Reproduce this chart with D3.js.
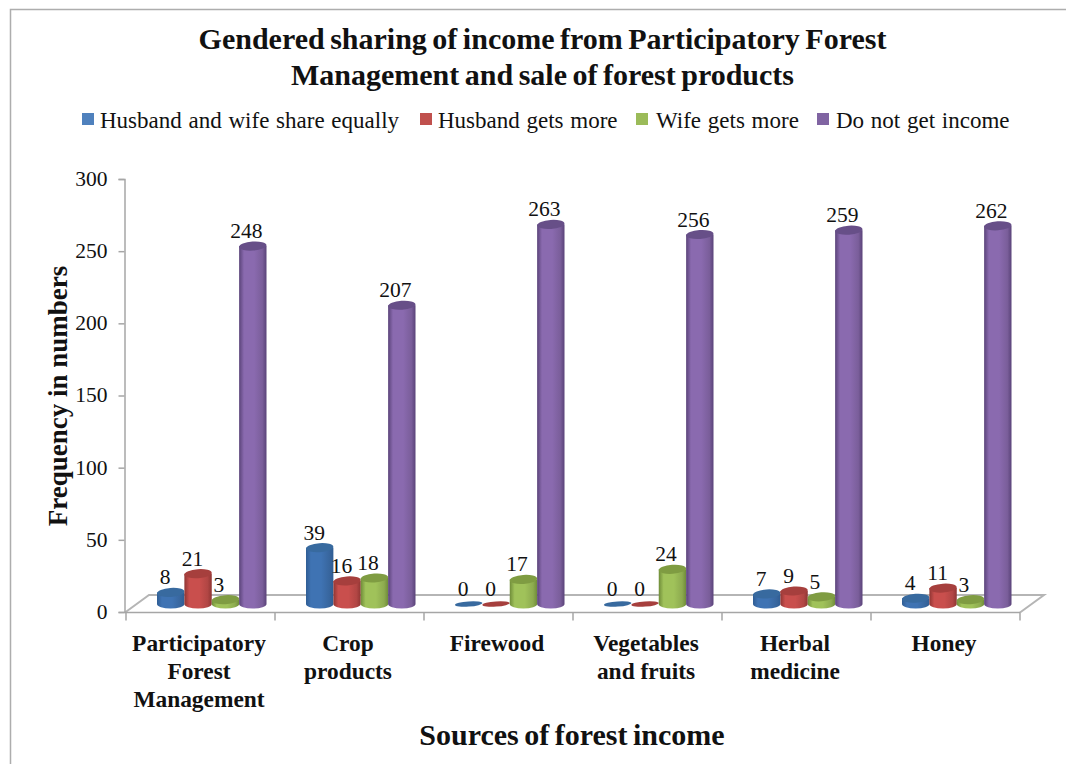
<!DOCTYPE html>
<html><head><meta charset="utf-8">
<script src="https://cdnjs.cloudflare.com/ajax/libs/d3/7.8.5/d3.min.js"></script>
<style>
html,body{margin:0;padding:0;background:#fff}
svg{display:block}
text{font-family:"Liberation Serif","Times New Roman",serif;fill:#111}
.axis path,.axis line{stroke:#a6a6a6;stroke-width:1.5px}
</style></head><body><svg id="c" width="1066" height="764"></svg>
<script>
const categories=[["Participatory","Forest","Management"],["Crop","products"],["Firewood"],["Vegetables","and fruits"],["Herbal","medicine"],["Honey"]];
const seriesNames=["Husband and wife share equally","Husband gets more","Wife gets more","Do not get income"];
const equally=[8,39,0,0,7,4];
const husband=[21,16,0,0,9,11];
const wife=[3,18,17,24,5,3];
const none=[248,207,263,256,259,262];
const yTicks=[0,50,100,150,200,250,300];
const seriesValues=[equally,husband,wife,none];
const base=["#4f81bd","#c0504d","#9bbb59","#8064a2"];
const dark=["#2f5d94","#8f3533","#6f8c39","#5a4379"];
const light=["#3f73b3","#c94f4d","#a0c25a","#8a6aaf"];
const topC=["#386a9f","#a63f3d","#7f9c42","#674f88"];

const svg=d3.select("#c");
const defs=svg.append("defs");
base.forEach((c,i)=>{
  const g=defs.append("linearGradient").attr("id","g"+i);
  [[0,dark[i]],[0.18,light[i]],[0.55,light[i]],[0.85,d3.color(light[i]).darker(.35)],[1,dark[i]]].forEach(s=>g.append("stop").attr("offset",s[0]).attr("stop-color",s[1]));
});
// outer frame
svg.append("path").attr("d","M10.5,764V9.5H1066").attr("fill","none").attr("stroke","#adadad").attr("stroke-width",1.5);

const idx=categories.map((d,i)=>i);
const x=d3.scaleBand().domain(idx).range([126,1020]);
const y=d3.scaleLinear().domain([0,300]).range([612,179]);
const inner=d3.scaleBand().domain([0,1,2,3]).range([0,109.5]);
const depthX=24, depthY=17;

// floor
svg.append("path").attr("d",`M125,${y(0)+.5}L${125+depthX},${y(0)-depthY}H1044L1020,${y(0)+.5}`)
  .attr("fill","#fff").attr("stroke","#b5b5b5").attr("stroke-width",2);

const yAxis=d3.axisLeft(y).tickValues(yTicks).tickSize(6).tickPadding(11);
const gy=svg.append("g").attr("class","axis").attr("transform","translate(124.5,0)").call(yAxis);
gy.selectAll("text").attr("font-size",21.5).attr("dy","0.3em");
const xAxis=d3.axisBottom(x).tickValues([]).tickSize(0);
const gx=svg.append("g").attr("class","axis").attr("transform",`translate(0,${y(0)+.5})`).call(xAxis);
gx.select("path").attr("d","M125,0H1020");
d3.range(7).forEach(i=>{
  const px=126+i*x.step();
  gx.append("line").attr("x1",px).attr("x2",px).attr("y1",0).attr("y2",8);
});

// bars
const groupLeft=i=>x(i)+31;
const lift=8, ry=4.5, ryZero=2.6;
const order=[0,1,2,3];
idx.forEach(ci=>{
  order.forEach(si=>{
    const v=seriesValues[si][ci];
    const l=groupLeft(ci)+inner(si), w=inner.bandwidth();
    const cx=l+w/2, b=y(0)-lift, t=y(v)-lift, r=w/2;
    const yy=svg.append("g");
    yy.append("path").attr("d",`M${l},${t}V${b}A${r},${ry} 0 0 0 ${l+w},${b}V${t}Z`).attr("fill",v?`url(#g${si})`:"none");
    yy.append("ellipse").attr("cx",cx).attr("cy",t).attr("rx",r).attr("ry",v?ry:ryZero).attr("fill",topC[si])
      .attr("transform",`rotate(-4 ${cx} ${t})`);
  });
});
// value labels
const labelShift=[-5.5,-5.5,-6.5,-6.5];
idx.forEach(ci=>order.forEach(si=>{
  const v=seriesValues[si][ci];
  const l=groupLeft(ci)+inner(si), w=inner.bandwidth();
  svg.append("text").attr("x",l+w/2+labelShift[si]).attr("y",y(v)-lift-8).attr("text-anchor","middle").attr("font-size",21.5).text(v);
}));

// category labels
idx.forEach(i=>{
  const lines=categories[i];
  lines.forEach((t,j)=>{
    svg.append("text").attr("x",x(i)+x.step()/2-1.5).attr("y",651+j*28).attr("text-anchor","middle")
      .attr("font-size",23.4).attr("font-weight","bold").text(t);
  });
});

// titles
const title=["Gendered sharing of income from Participatory Forest","Management and sale of forest products"];
title.forEach((t,i)=>svg.append("text").attr("x",542.5).attr("y",49+i*36).attr("text-anchor","middle")
  .attr("font-size",30).attr("font-weight","bold").attr("word-spacing","-2").text(t));
svg.append("text").attr("x",572).attr("y",745).attr("text-anchor","middle").attr("font-size",30).attr("font-weight","bold").attr("word-spacing","-2").text("Sources of forest income");
svg.append("text").attr("transform","translate(67,396) rotate(-90)").attr("text-anchor","middle").attr("font-size",27).attr("font-weight","bold").text("Frequency in numbers");

// legend
const legX=[82,420,636,817], legText=[100,438,656,836];
seriesNames.forEach((n,i)=>{
  svg.append("rect").attr("x",legX[i]).attr("y",113).attr("width",12).attr("height",12).attr("fill",base[i]);
  svg.append("text").attr("x",legText[i]).attr("y",128).attr("font-size",23).attr("word-spacing","1").text(n);
});
</script></body></html>
